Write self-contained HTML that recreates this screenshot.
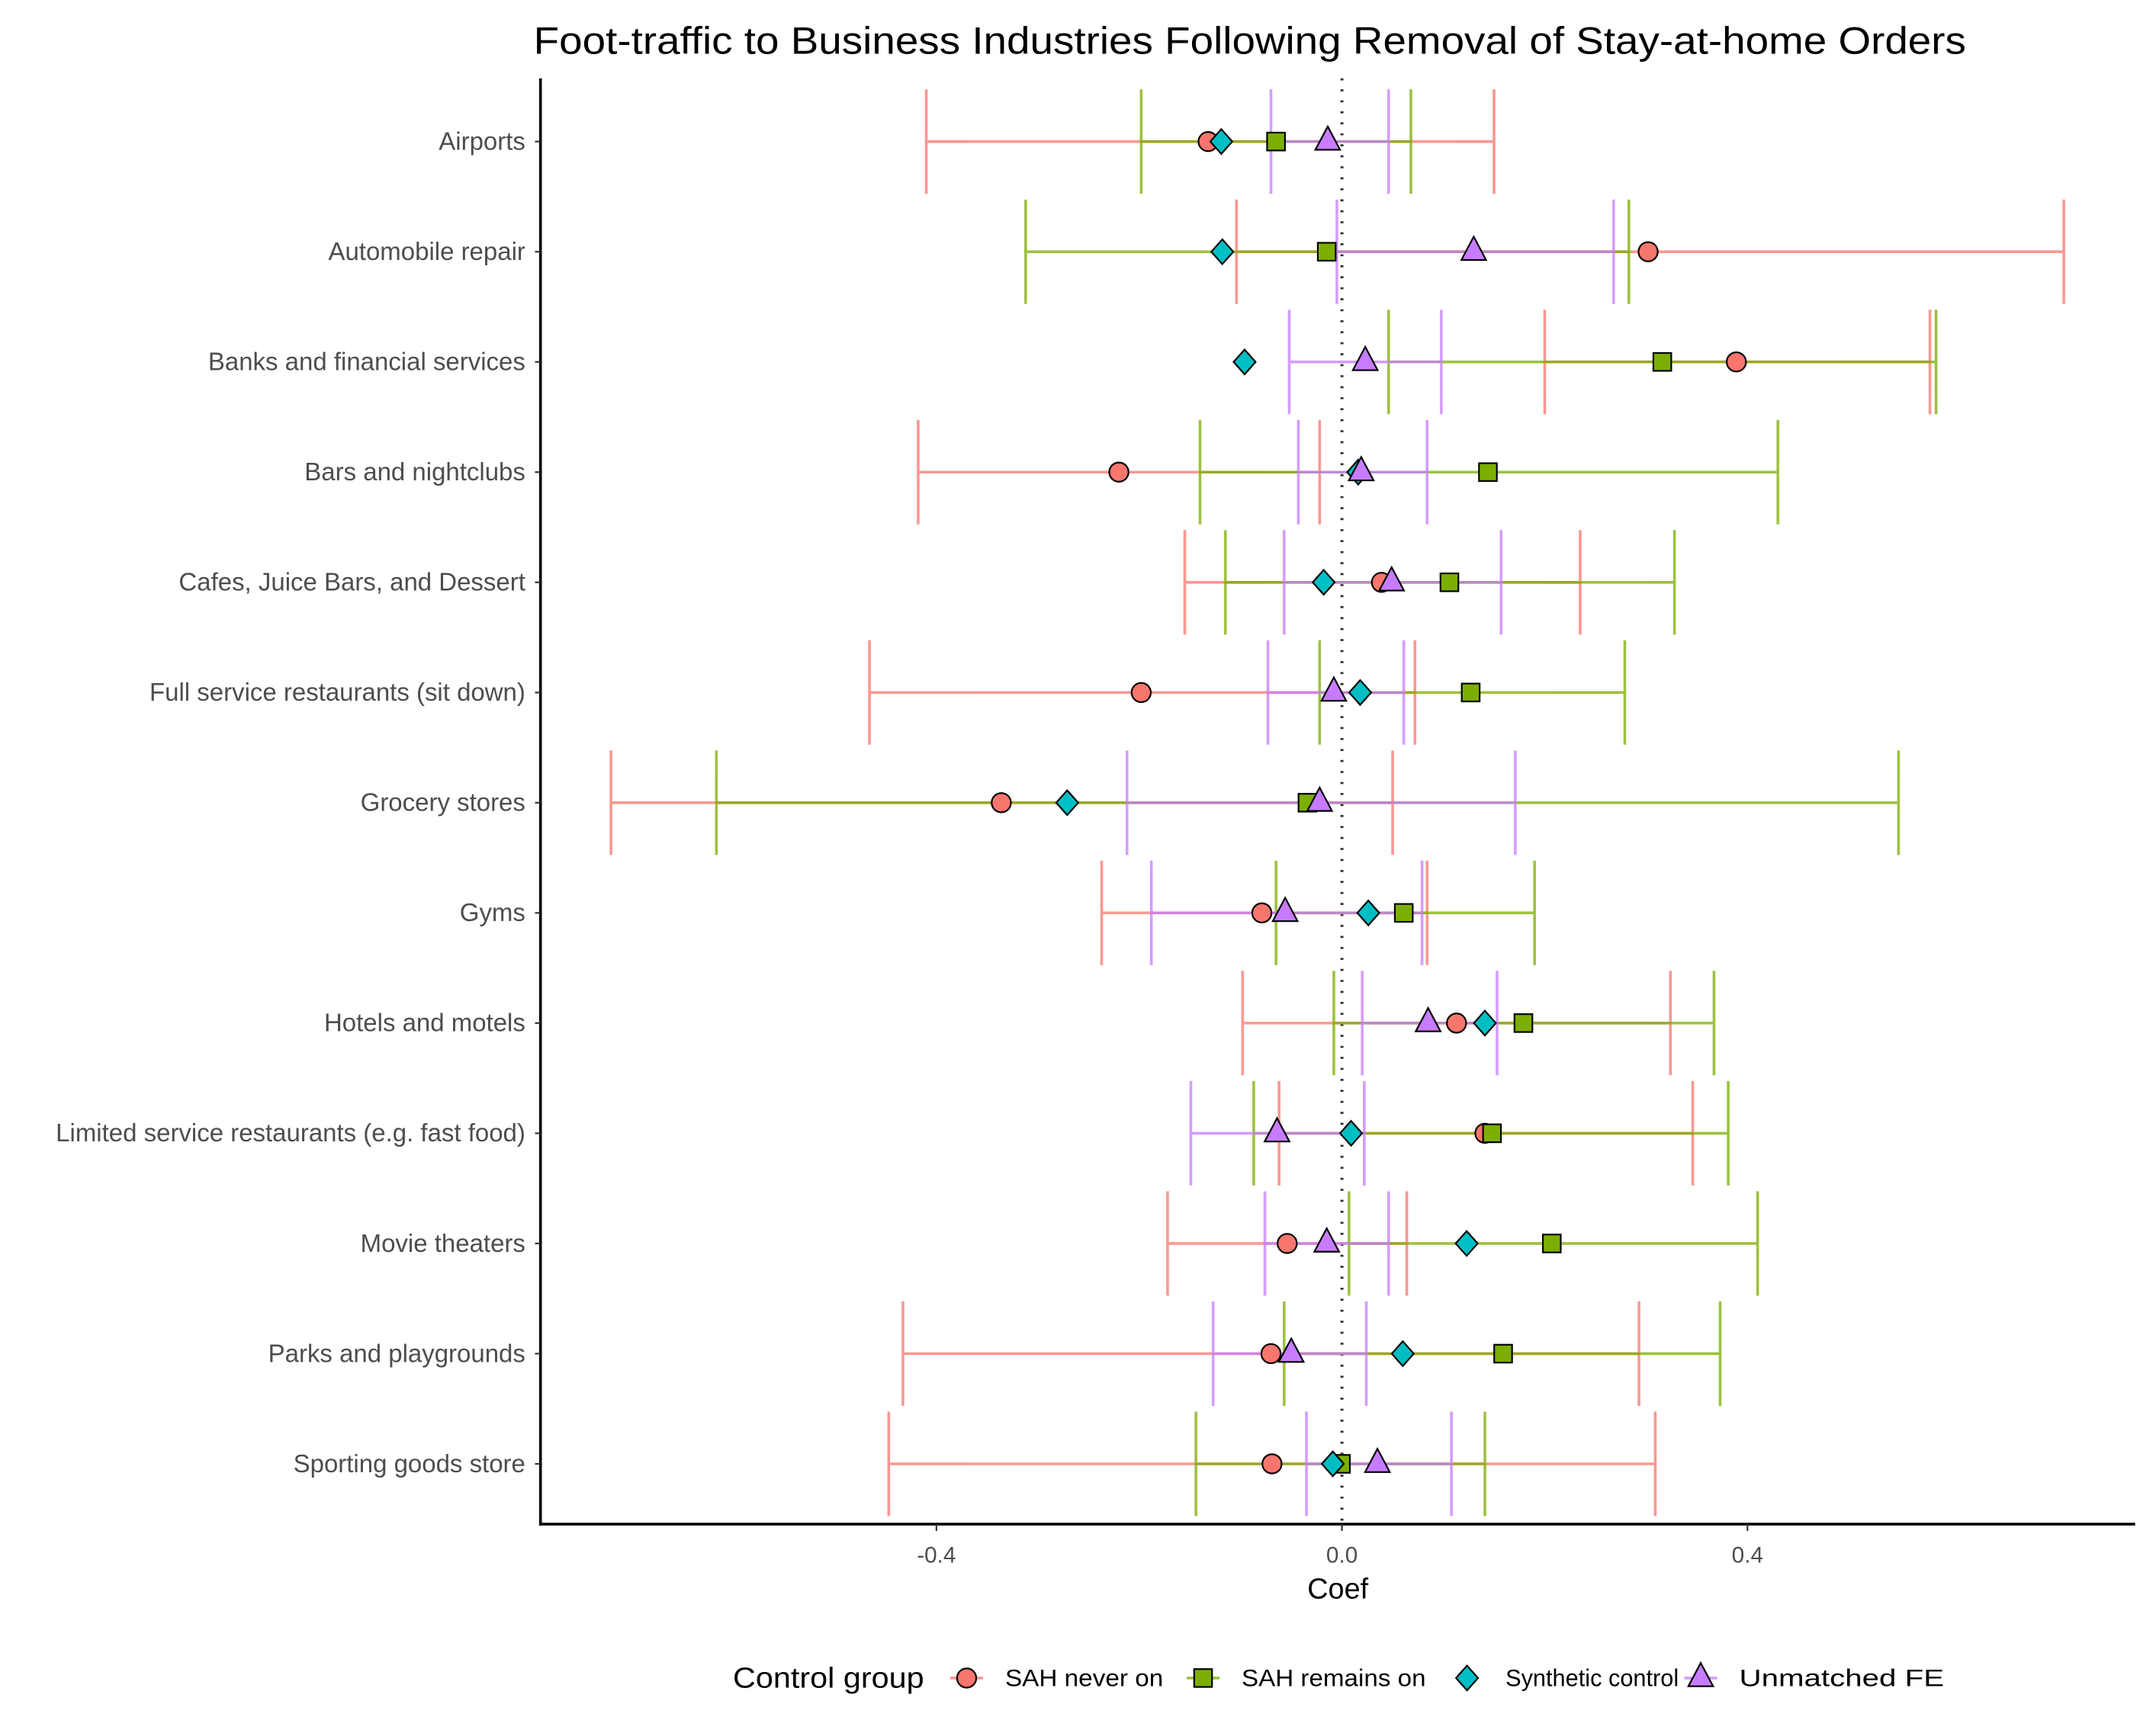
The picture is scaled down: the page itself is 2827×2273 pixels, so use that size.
<!DOCTYPE html>
<html><head><meta charset="utf-8"><style>
html,body{margin:0;padding:0;background:#fff}
svg{display:block}
text{font-family:"Liberation Sans",Arial,sans-serif}
</style></head><body>
<svg id="chart" width="2827" height="2273" viewBox="0 0 1568 1261" xmlns="http://www.w3.org/2000/svg">
<text x="909" y="39" font-size="28" text-anchor="middle" fill="#000" textLength="1042" lengthAdjust="spacingAndGlyphs">Foot-traffic to Business Industries Following Removal of Stay-at-home Orders</text>
<g id="plot"></g>
<text x="973" y="1163" font-size="21" text-anchor="middle" fill="#000">Coef</text>
<g id="legend">
<text x="533" y="1228" font-size="21" fill="#000" textLength="139" lengthAdjust="spacingAndGlyphs">Control group</text>
</g>
</svg>
<script>
const categories = ["Airports","Automobile repair","Banks and financial services","Bars and nightclubs","Cafes, Juice Bars, and Dessert","Full service restaurants (sit down)","Grocery stores","Gyms","Hotels and motels","Limited service restaurants (e.g. fast food)","Movie theaters","Parks and playgrounds","Sporting goods store"];
const seriesNames = ["SAH never on","SAH remains on","Synthetic control","Unmatched FE"];
const neverOnEst = [-0.132,0.302,0.389,-0.220,0.039,-0.198,-0.336,-0.079,0.113,0.141,-0.054,-0.070,-0.069];
const neverOnLo  = [-0.410,-0.104,0.200,-0.418,-0.155,-0.466,-0.721,-0.237,-0.098,-0.062,-0.172,-0.433,-0.447];
const neverOnHi  = [0.150,0.712,0.580,-0.022,0.235,0.072,0.050,0.084,0.324,0.346,0.064,0.293,0.309];
const remainsEst = [-0.065,-0.015,0.316,0.144,0.106,0.127,-0.034,0.061,0.179,0.148,0.207,0.159,-0.001];
const remainsLo  = [-0.198,-0.312,0.046,-0.140,-0.115,-0.022,-0.617,-0.065,-0.008,-0.087,0.007,-0.057,-0.144];
const remainsHi  = [0.068,0.283,0.586,0.430,0.328,0.279,0.549,0.190,0.367,0.381,0.410,0.373,0.141];
const synthEst   = [-0.119,-0.118,-0.096,0.016,-0.018,0.018,-0.271,0.026,0.141,0.009,0.123,0.060,-0.009];
const unmatchedEst = [-0.014,0.130,0.023,0.019,0.049,-0.008,-0.022,-0.056,0.085,-0.064,-0.015,-0.050,0.035];
const unmatchedLo  = [-0.070,-0.005,-0.052,-0.043,-0.057,-0.073,-0.212,-0.188,0.020,-0.149,-0.076,-0.127,-0.035];
const unmatchedHi  = [0.046,0.268,0.098,0.084,0.157,0.061,0.171,0.079,0.153,0.022,0.046,0.024,0.108];
const xTicks = [-0.4,0.0,0.4];
const xTickLabels = ["-0.4","0.0","0.4"];

const NS="http://www.w3.org/2000/svg";
const plot=document.getElementById('plot');
const L=393,R=1553,T=57,B=1109;
function xS(v){return 976+v*737.5;}
function yS(i){return 103+i*80.18;}
function mk(tag,attrs,parent){const e=document.createElementNS(NS,tag);for(const k in attrs)e.setAttribute(k,attrs[k]);(parent||plot).appendChild(e);return e;}
const cols=["#F8766D","#7CAE00","#00BFC4","#C77CFF"];

let z=mk('line',{x1:xS(0),x2:xS(0),y1:T,y2:B,stroke:"#333","stroke-width":2.2,"stroke-dasharray":"1.5 6.5"});



const ciSets=[[neverOnLo,neverOnHi,0],[remainsLo,remainsHi,1],[unmatchedLo,unmatchedHi,3]];
ciSets.forEach(([lo,hi,s])=>{
  categories.forEach((c,i)=>{
    const g=mk('g',{stroke:cols[s],"stroke-width":2,opacity:0.75,fill:"none"});
    
    
    const y=yS(i);
    mk('line',{x1:xS(lo[i]),x2:xS(hi[i]),y1:y,y2:y},g);
    mk('line',{x1:xS(lo[i]),x2:xS(lo[i]),y1:y-38,y2:y+38},g);
    mk('line',{x1:xS(hi[i]),x2:xS(hi[i]),y1:y-38,y2:y+38},g);
  });
});

function shape(s,x,y,parent){
  const st={fill:cols[s],stroke:"#000","stroke-width":1.2};
  let e;
  if(s===0){e=mk('circle',Object.assign({cx:x,cy:y,r:7},st),parent);}
  else if(s===1){e=mk('rect',Object.assign({x:x-6.5,y:y-6.5,width:13,height:13},st),parent);}
  else if(s===2){e=mk('polygon',Object.assign({points:`${x},${y-9} ${x+8},${y} ${x},${y+9} ${x-8},${y}`},st),parent);}
  else {e=mk('polygon',Object.assign({points:`${x},${y-11} ${x+9},${y+6} ${x-9},${y+6}`},st),parent);}
  return e;
}
const ests=[neverOnEst,remainsEst,synthEst,unmatchedEst];
ests.forEach((arr,s)=>{
  categories.forEach((c,i)=>{
    const p=shape(s,xS(arr[i]),yS(i));
    
    
  });
});

let ya=mk('line',{x1:L,x2:L,y1:T,y2:B+1,stroke:"#000","stroke-width":2});


let xa=mk('line',{x1:L-1,x2:R,y1:B,y2:B,stroke:"#000","stroke-width":2});


categories.forEach((c,i)=>{
  const y=yS(i);
  const tk=mk('line',{x1:L-4,x2:L,y1:y,y2:y,stroke:"#333","stroke-width":1.2});
  
  
  const t=mk('text',{x:L-11,y:y+6,"font-size":18.3,"text-anchor":"end",fill:"#4d4d4d"});
  t.textContent=c;
  
  
});
xTicks.forEach((v,i)=>{
  const x=xS(v);
  const tk=mk('line',{x1:x,x2:x,y1:B,y2:B+5,stroke:"#333","stroke-width":1.2});
  
  
  const t=mk('text',{x:x,y:B+28,"font-size":16.5,"text-anchor":"middle",fill:"#4d4d4d"});
  t.textContent=xTickLabels[i];
  
  
});

const leg=document.getElementById('legend');
const lx=[703,875,1067,1237];
const lw=[115,134,126,149];
seriesNames.forEach((n,s)=>{
  const g=mk('g',{},leg);
  
  
  const y=1221;
  if(s!==2) mk('line',{x1:lx[s]-12,x2:lx[s]+12,y1:y,y2:y,stroke:cols[s],"stroke-width":2,opacity:0.75},g);
  shape(s,lx[s],y,g);
  const t=mk('text',{x:lx[s]+28,y:y+6,"font-size":17.5,fill:"#000",textLength:lw[s],lengthAdjust:"spacingAndGlyphs"},g);
  t.textContent=n;
});
</script>
</body></html>
